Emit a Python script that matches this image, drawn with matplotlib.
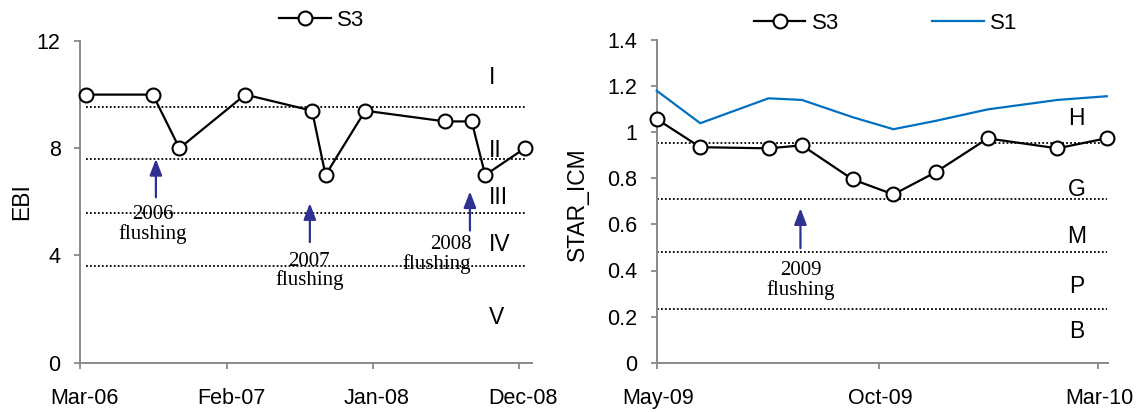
import matplotlib
matplotlib.use("Agg")
import matplotlib.pyplot as plt
import matplotlib.dates as mdates
from matplotlib.transforms import ScaledTranslation
import pandas as pd

# ---------------- data: left panel (EBI) ----------------
ebi_dates = ["2006-03-15", "2006-08-15", "2006-10-15", "2007-03-15", "2007-08-15",
             "2007-09-15", "2007-12-15", "2008-06-15", "2008-08-15", "2008-09-15",
             "2008-12-15"]
ebi_s3 = [10, 10, 8, 10, 9.4, 7, 9.4, 9, 9, 7, 8]
ebi_bounds = [9.55, 7.6, 5.6, 3.6]
ebi_classes = ["I", "II", "III", "IV", "V"]
ebi_class_y = [10.65, 7.9, 6.15, 4.4, 1.7]
ebi_yticks = [0, 4, 8, 12]
ebi_xticks = ["2006-03-01", "2007-02-01", "2008-01-01", "2008-12-01"]
ebi_xticklabels = ["Mar-06", "Feb-07", "Jan-08", "Dec-08"]
ebi_flush_dates = ["2006-08-22", "2007-08-10", "2008-08-11"]
ebi_flush_labels = ["2006\nflushing", "2007\nflushing", "2008\nflushing"]

# ---------------- data: right panel (STAR_ICM) ----------------
icm_dates = ["2009-05-01", "2009-05-31", "2009-07-17", "2009-08-09", "2009-09-13",
             "2009-10-11", "2009-11-09", "2009-12-15", "2010-02-01", "2010-03-07"]
icm_s3 = [1.057, 0.935, 0.930, 0.943, 0.795, 0.730, 0.826, 0.973, 0.930, 0.974]
icm_s1 = [1.180, 1.039, 1.147, 1.140, 1.065, 1.013, 1.049, 1.099, 1.140, 1.156]
icm_bounds = [0.955, 0.71, 0.48, 0.235]
icm_classes = ["H", "G", "M", "P", "B"]
icm_class_y = [1.06, 0.75, 0.547, 0.33, 0.134]
icm_yticks = [0, 0.2, 0.4, 0.6, 0.8, 1.0, 1.2, 1.4]
icm_yticklabels = ["0", "0.2", "0.4", "0.6", "0.8", "1", "1.2", "1.4"]
icm_xticks = ["2009-05-01", "2009-10-01", "2010-03-01"]
icm_xticklabels = ["May-09", "Oct-09", "Mar-10"]
icm_flush_dates = ["2009-08-08"]
icm_flush_labels = ["2009\nflushing"]

D = pd.to_datetime

# ---------------- styling ----------------
SANS = ["Liberation Sans", "DejaVu Sans"]
SERIF = ["Liberation Serif", "DejaVu Serif"]
plt.rcParams["font.family"] = SANS
AXC = "#898989"
ARROWC = "#2E3192"
TICKFS = 15.5
CLASSFS = 16.5
SERIFFS = 15

fig = plt.figure(figsize=(11.43, 4.12), dpi=100)
axL = fig.add_axes([80 / 1143, 49.3 / 412, 452.3 / 1143, 321.7 / 412])
axR = fig.add_axes([656.7 / 1143, 49.3 / 412, 451.6 / 1143, 322.7 / 412])


def style_axes(ax):
    for s in ["top", "right"]:
        ax.spines[s].set_visible(False)
    for s in ["left", "bottom"]:
        ax.spines[s].set_color(AXC)
        ax.spines[s].set_linewidth(1.4)
    ax.tick_params(axis="both", direction="out", length=4, width=1.3, color=AXC,
                   labelsize=TICKFS, labelcolor="black")
    ax.tick_params(axis="y", pad=10)
    ax.tick_params(axis="x", pad=14.5)


dotted = dict(color="black", lw=1.3, ls=(0, (1, 1.2)), zorder=1)
s3style = dict(color="black", lw=1.6, marker="o", ms=10, mfc="white", mec="black",
               mew=1.5, zorder=4, clip_on=False)
arrowprops = dict(arrowstyle="-|>,head_length=0.65,head_width=0.25", color=ARROWC,
                  lw=1.6, shrinkA=0, shrinkB=0, mutation_scale=15)

# ================= Left panel =================
ax = axL
style_axes(ax)
xd = D(ebi_dates)
for b in ebi_bounds:
    ax.plot([xd[0], xd[-1]], [b, b], **dotted)
lineL, = ax.plot(xd, ebi_s3, label="S3", **s3style)
ax.set_ylim(0, 12)
ax.set_yticks(ebi_yticks)
ax.set_xlim(D("2006-03-01"), D("2009-01-01"))
ax.set_xticks(D(ebi_xticks))
ax.set_xticklabels(ebi_xticklabels)
ax.set_ylabel("EBI", fontsize=16.5, va="center")
ax.yaxis.set_label_coords(-0.13, 0.5)
for lab in ax.get_xticklabels():
    lab.set_transform(lab.get_transform() + ScaledTranslation(4 / 100, 0, fig.dpi_scale_trans))

for c, y in zip(ebi_classes, ebi_class_y):
    ax.text(D("2008-09-24"), y, c, fontsize=CLASSFS, ha="left", va="center")

arrow_tips = [7.6, 5.95, 6.39]
arrow_tails = [6.17, 4.5, 4.93]
text_pos = [(D("2006-08-14"), 5.14, "center"), (D("2007-08-09"), 3.42, "center"),
            (D("2008-08-14"), 4.04, "right")]
for d, tip, tail in zip(D(ebi_flush_dates), arrow_tips, arrow_tails):
    ax.annotate("", xy=(d, tip), xytext=(d, tail), arrowprops=arrowprops, zorder=3)
for (tx, ty, ha), lbl in zip(text_pos, ebi_flush_labels):
    ax.text(tx, ty, lbl, family=SERIF, fontsize=SERIFFS, ha=ha, va="center",
            multialignment=ha, linespacing=1.0, zorder=2)

axL.legend(handles=[lineL], loc="center", bbox_to_anchor=(322 / 1143, 1 - 20 / 412),
           bbox_transform=fig.transFigure, frameon=False, fontsize=TICKFS + 0.5,
           handlelength=2.3, handletextpad=0.3, borderpad=0.2)

# ================= Right panel =================
ax = axR
style_axes(ax)
xr = D(icm_dates)
for b in icm_bounds:
    ax.plot([xr[0], xr[-1]], [b, b], **dotted)
lineR3, = ax.plot(xr, icm_s3, label="S3", **s3style)
lineR1, = ax.plot(xr, icm_s1, color="#0070C0", lw=1.6, label="S1", zorder=3, clip_on=False)
ax.set_ylim(0, 1.4)
ax.set_yticks(icm_yticks)
ax.set_yticklabels(icm_yticklabels)
ax.set_xlim(D("2009-05-01"), D("2010-03-08"))
ax.set_xticks(D(icm_xticks))
ax.set_xticklabels(icm_xticklabels)
ax.set_ylabel("STAR_ICM", fontsize=16.5, va="center")
ax.yaxis.set_label_coords(-0.176, 0.49)
for lab in ax.get_xticklabels():
    lab.set_transform(lab.get_transform() + ScaledTranslation(1.5 / 100, 0, fig.dpi_scale_trans))

for c, y in zip(icm_classes, icm_class_y):
    ax.text(D("2010-02-14"), y, c, fontsize=CLASSFS, ha="center", va="center")

for d, lbl in zip(D(icm_flush_dates), icm_flush_labels):
    ax.annotate("", xy=(d, 0.67), xytext=(d, 0.497), arrowprops=arrowprops, zorder=3)
    ax.text(d, 0.355, lbl, family=SERIF, fontsize=SERIFFS, ha="center", va="center",
            linespacing=1.0, zorder=2)

axR.legend(handles=[lineR3, lineR1], loc="center", bbox_to_anchor=(885.8 / 1143, 1 - 23.3 / 412),
           bbox_transform=fig.transFigure, frameon=False, fontsize=TICKFS + 0.5, ncol=2,
           handlelength=2.3, handletextpad=0.3, columnspacing=4.2, borderpad=0.2)

fig.savefig("out.png", dpi=100)
